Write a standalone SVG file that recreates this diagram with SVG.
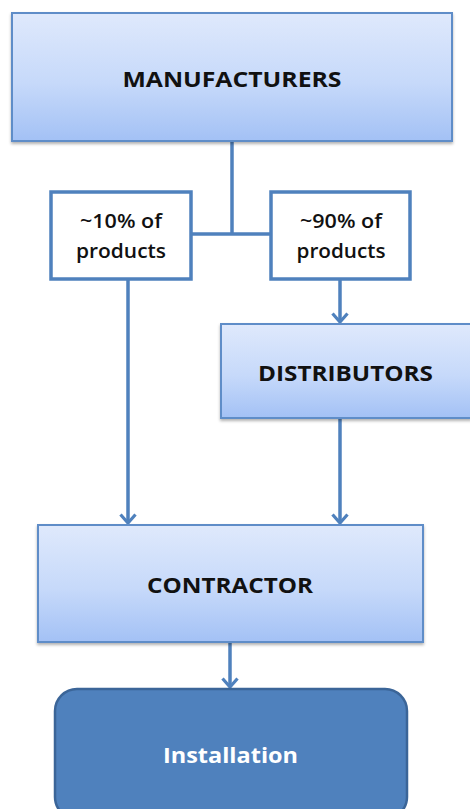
<svg xmlns="http://www.w3.org/2000/svg" width="470" height="809" viewBox="0 0 470 809">
  <defs>
    <linearGradient id="boxFill" x1="0" y1="0" x2="0" y2="1">
      <stop offset="0" stop-color="#dfe9fc"/>
      <stop offset="0.55" stop-color="#c6d9fa"/>
      <stop offset="1" stop-color="#a3c1f5"/>
    </linearGradient>
    <filter id="shadow" x="-5%" y="-5%" width="110%" height="115%">
      <feDropShadow dx="0" dy="2" stdDeviation="1.5" flood-color="#000" flood-opacity="0.3"/>
    </filter>
    <!-- open V arrowhead, drawn pointing along +x so orient="auto" turns it with the line -->
    <marker id="arrow" viewBox="0 0 12 18" refX="10" refY="9" markerWidth="12" markerHeight="18" markerUnits="userSpaceOnUse" orient="auto">
      <path d="M1.5 1.5 L10 9 L1.5 16.5" fill="none" stroke="#4f81bd" stroke-width="3.2" stroke-linejoin="miter"/>
    </marker>
  </defs>
  <style>
    .box { fill: url(#boxFill); stroke: #5f8dc8; stroke-width: 2; filter: url(#shadow); }
    .note { fill: #ffffff; stroke: #4f81bd; stroke-width: 3.5; }
    .final { fill: #4f81bd; stroke: #3b6598; stroke-width: 2.5; }
    .wire { fill: none; stroke: #4f81bd; stroke-width: 3.5; }
    .label { font-family: "Open Sans", "Liberation Sans", sans-serif; font-weight: bold; fill: #111; text-anchor: middle; font-size: 22px; }
    .small { font-family: "Open Sans", "Liberation Sans", sans-serif; font-weight: 600; fill: #111; text-anchor: middle; font-size: 20px; }
  </style>

  <rect width="470" height="809" fill="#ffffff"/>

  <!-- connectors -->
  <g id="connectors">
    <path class="wire" d="M232 141 V234"/>
    <path class="wire" d="M191 234 H271"/>
    <path class="wire" d="M128 279 V523" marker-end="url(#arrow)"/>
    <path class="wire" d="M340 279 V322" marker-end="url(#arrow)"/>
    <path class="wire" d="M340 418 V523" marker-end="url(#arrow)"/>
    <path class="wire" d="M230 642 V687" marker-end="url(#arrow)"/>
  </g>

  <g id="manufacturers">
    <rect class="box" x="12" y="13" width="440" height="128"/>
    <text class="label" x="232" y="87" textLength="219" lengthAdjust="spacingAndGlyphs">MANUFACTURERS</text>
  </g>

  <g id="share-10">
    <rect class="note" x="51" y="192" width="140" height="87"/>
    <text class="small" x="121" y="228" textLength="82" lengthAdjust="spacingAndGlyphs">~10% of</text>
    <text class="small" x="121" y="258" textLength="90" lengthAdjust="spacingAndGlyphs">products</text>
  </g>

  <g id="share-90">
    <rect class="note" x="271" y="192" width="139" height="87"/>
    <text class="small" x="341" y="228" textLength="82" lengthAdjust="spacingAndGlyphs">~90% of</text>
    <text class="small" x="341" y="258" textLength="89" lengthAdjust="spacingAndGlyphs">products</text>
  </g>

  <g id="distributors">
    <rect class="box" x="221" y="324" width="250" height="94"/>
    <text class="label" x="345.5" y="381" textLength="175" lengthAdjust="spacingAndGlyphs">DISTRIBUTORS</text>
  </g>

  <g id="contractor">
    <rect class="box" x="38" y="525" width="385" height="117"/>
    <text class="label" x="230" y="593" textLength="166" lengthAdjust="spacingAndGlyphs">CONTRACTOR</text>
  </g>

  <g id="installation">
    <rect class="final" x="55" y="689" width="352" height="130" rx="22" ry="22"/>
    <text class="label" x="230.5" y="763" style="fill:#ffffff" textLength="135" lengthAdjust="spacingAndGlyphs">Installation</text>
  </g>
</svg>
